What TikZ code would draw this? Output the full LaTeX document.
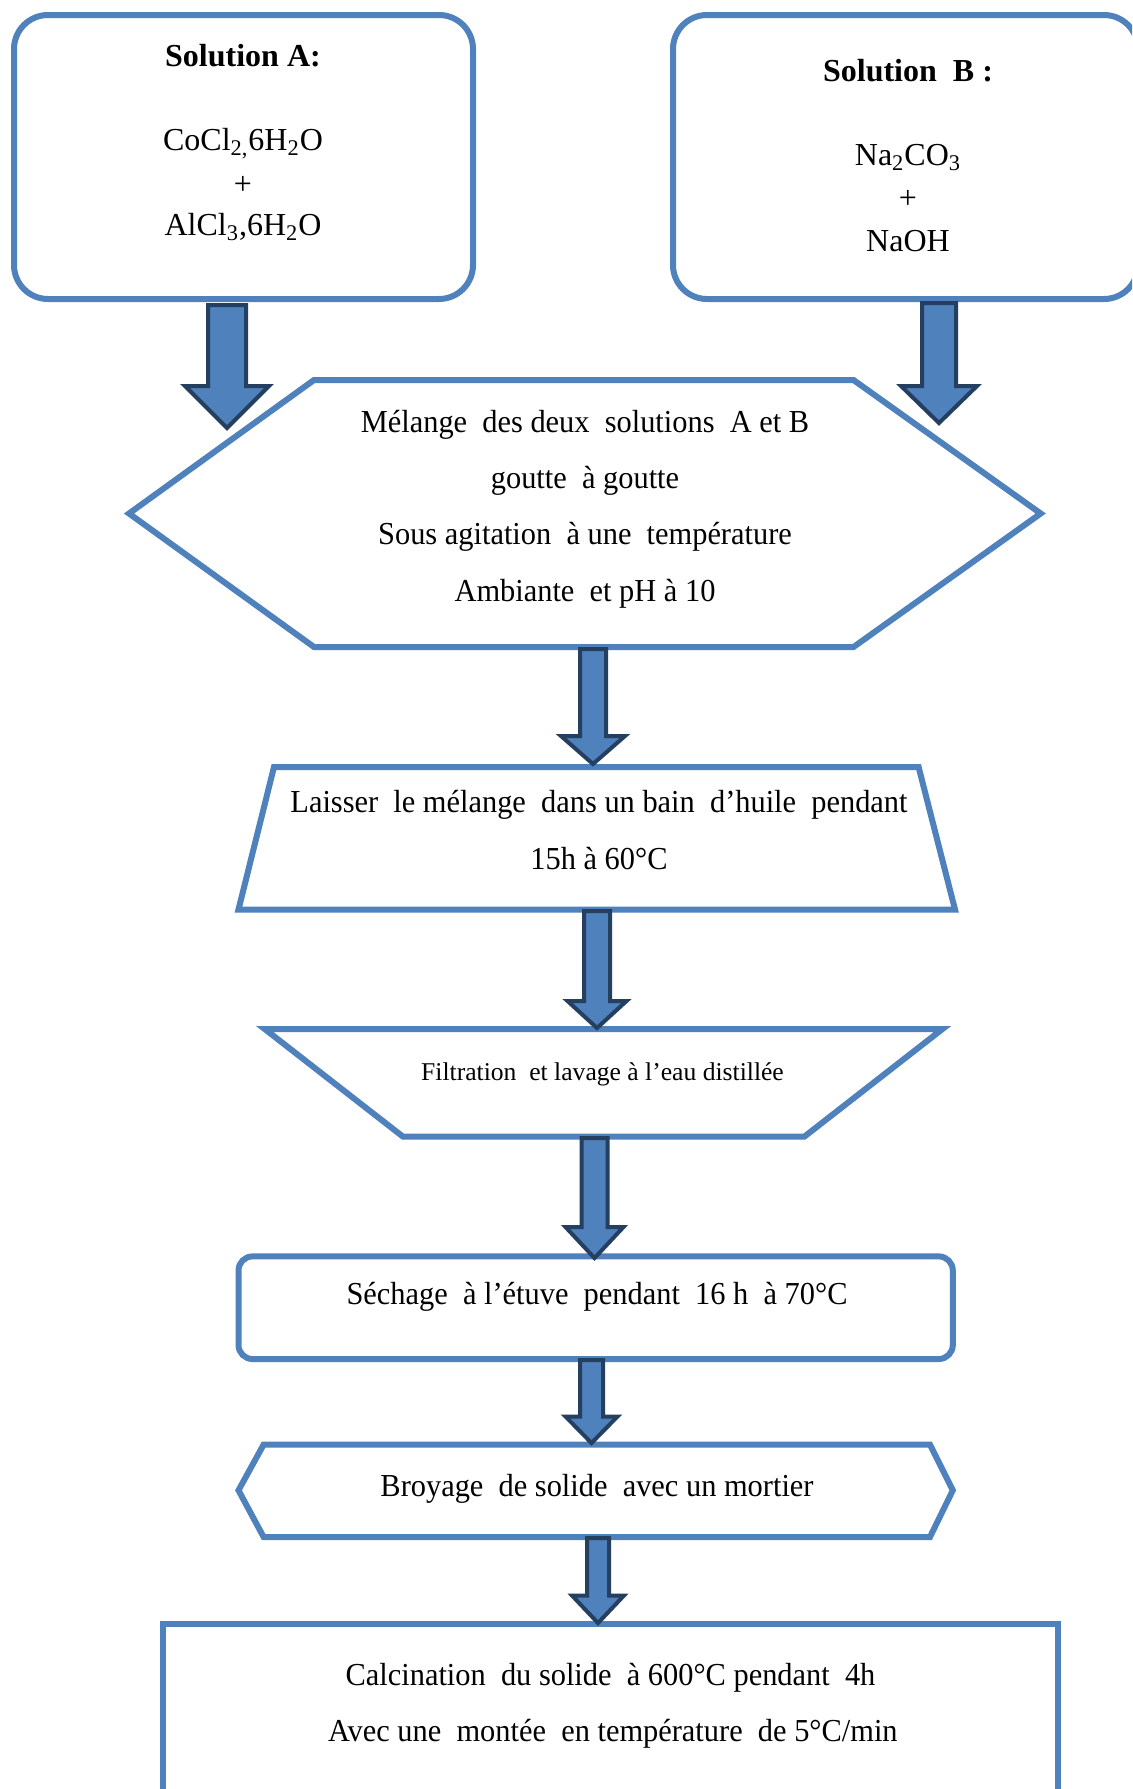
\documentclass[tikz,border=0pt]{standalone}
\usepackage{fontspec}
\setmainfont{Liberation Serif}
\newfontfamily\condfont[FakeStretch=0.95]{Liberation Serif}
\usetikzlibrary{calc}
\definecolor{boxblue}{HTML}{4F81BD}
\definecolor{arrowline}{HTML}{243F60}
\tikzset{
 box/.style={draw=boxblue, line width=3pt, line join=miter},
 txt/.style={inner sep=0pt, text height=0.68em, text depth=0pt, yshift=-2.5pt, font=\fontsize{16}{19}\selectfont},
 ctxt/.style={txt, font=\condfont\fontsize{16}{19}\selectfont},
 smalltxt/.style={txt, font=\fontsize{12.8}{15}\selectfont},
 boldtxt/.style={txt, font=\fontsize{16}{19}\selectfont\bfseries},
 blockarrow/.style={fill=boxblue, draw=arrowline, line width=2pt, line join=miter},
}
\newcommand\bigarrow[5]{%
 \draw[blockarrow] ($(#1)+(-#3,0)$) -- ($(#2)+(-#3,-#5)$) -- ($(#2)+(-#4,-#5)$) -- (#2) -- ($(#2)+(#4,-#5)$) -- ($(#2)+(#3,-#5)$) -- ($(#1)+(#3,0)$) -- cycle;}
\begin{document}
\begin{tikzpicture}[x=0.5pt,y=-0.5pt]
\useasboundingbox (0,0) rectangle (1132,1789);
\clip (0,0) rectangle (1132,1789);
\fill[white] (0,0) rectangle (1132,1789);

% Solution A
\draw[box, rounded corners=17pt] (14,15) rectangle (473,299);
\node[boldtxt] (sa) at (243,55) {Solution A:};
\node[txt] (sa1) at (243,139) {CoCl\textsubscript{2,}6H\textsubscript{2}O};
\node[txt] (sa2) at (243,183) {+};
\node[txt] (sa3) at (243,224) {AlCl\textsubscript{3},6H\textsubscript{2}O};

% Solution B
\draw[box, rounded corners=17pt] (673,15) rectangle (1138,299);
\node[boldtxt] (sb) at (908,70) {Solution\ \ B :};
\node[txt] (sb1) at (908,154) {Na\textsubscript{2}CO\textsubscript{3}};
\node[txt] (sb2) at (908,197) {+};
\node[txt] (sb3) at (908,240) {NaOH};

% Hexagon 1
\draw[box] (314,380) -- (853.5,380) -- (1040.7,513.5) -- (853.5,647) -- (314,647) -- (129,513.5) -- cycle;
\node[ctxt] (m1) at (585,421) {Mélange\ \ des deux\ \ solutions\ \ A et B};
\node[ctxt] (m2) at (585,477) {goutte\ \ à goutte};
\node[ctxt] (m3) at (585,533) {Sous agitation\ \ à une\ \ température};
\node[ctxt] (m4) at (585,590) {Ambiante\ \ et pH à 10};

% Trapezoid 1
\draw[box] (274,767) -- (918.6,767) -- (955,909.5) -- (238.5,909.5) -- cycle;
\node[ctxt] (l1) at (599,801) {Laisser\ \ le mélange\ \ dans un bain\ \ d’huile\ \ pendant};
\node[ctxt] (l2) at (599,858) {15h à 60°C};

% Trapezoid 2
\draw[box] (264.7,1029) -- (942.5,1029) -- (804.5,1136.5) -- (402.8,1136.5) -- cycle;
\node[smalltxt] (f1) at (602.5,1069) {Filtration\ \ et lavage à l’eau distillée};

% Rounded rect
\draw[box, rounded corners=7pt] (238.5,1256.4) rectangle (952.8,1359);
\node[ctxt] (s1) at (597,1293) {Séchage\ \ à l’étuve\ \ pendant\ \ 16 h\ \ à 70°C};

% Hexagon 2
\draw[box] (263.6,1444.6) -- (930,1444.6) -- (952.8,1490.3) -- (930,1537) -- (263.6,1537) -- (238.5,1490.3) -- cycle;
\node[ctxt] (b1) at (597,1484.6) {Broyage\ \ de solide\ \ avec un mortier};

% Bottom rect
\draw[box] (163,1624) rectangle (1058,1810);
\node[ctxt] (c1) at (610.5,1674) {Calcination\ \ du solide\ \ à 600°C pendant\ \ 4h};
\node[ctxt] (c2) at (612.8,1730) {Avec une\ \ montée\ \ en température\ \ de 5°C/min};

% Arrow coordinates
\coordinate (aAs) at (227,305);   \coordinate (aAe) at (227,428);
\coordinate (aBs) at (939,303);   \coordinate (aBe) at (939,423);
\coordinate (a3s) at (593,649);   \coordinate (a3e) at (593,764);
\coordinate (a4s) at (597,911);   \coordinate (a4e) at (597,1028);
\coordinate (a5s) at (594.5,1138);\coordinate (a5e) at (594.5,1258);
\coordinate (a6s) at (591.5,1360);\coordinate (a6e) at (591.5,1443);
\coordinate (a7s) at (598,1538);  \coordinate (a7e) at (598,1623);

\bigarrow{aAs}{aAe}{19}{42}{42}
\bigarrow{aBs}{aBe}{17}{38}{37}
\bigarrow{a3s}{a3e}{13}{32}{28}
\bigarrow{a4s}{a4e}{13}{29.5}{27}
\bigarrow{a5s}{a5e}{13}{29}{31}
\bigarrow{a6s}{a6e}{11.5}{26}{26.5}
\bigarrow{a7s}{a7e}{11}{26}{27.5}
\end{tikzpicture}
\end{document}
